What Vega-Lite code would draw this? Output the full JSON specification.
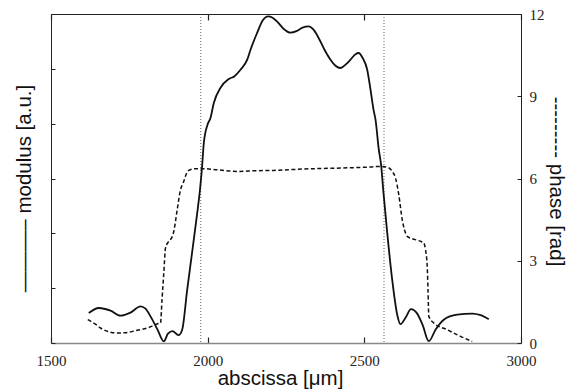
{
  "$schema": "https://vega.github.io/schema/vega-lite/v6.json",
  "autosize": {"type": "none"},
  "padding": {"left": 51, "top": 14, "right": 59, "bottom": 49},
  "width": 470,
  "height": 329,
  "background": "white",
  "config": {
    "view": {"stroke": "#222", "strokeWidth": 1},
    "axis": {
      "grid": false,
      "domain": false,
      "labelFlush": false,
      "tickColor": "#222",
      "tickWidth": 1,
      "labelFont": "Liberation Serif",
      "labelFontSize": 15,
      "labelColor": "#222",
      "titleFont": "Liberation Sans",
      "titleFontSize": 20.5,
      "titleFontWeight": "normal",
      "titleColor": "#111"
    }
  },
  "datasets": {
    "mod": [
      {"x": 1620.6, "m": 0.547}, {"x": 1652.6, "m": 0.638}, {"x": 1689.9, "m": 0.589}, {"x": 1721.8, "m": 0.498},
      {"x": 1753.7, "m": 0.553}, {"x": 1785.7, "m": 0.668}, {"x": 1801.6, "m": 0.626}, {"x": 1817.6, "m": 0.485},
      {"x": 1839.9, "m": 0.243}, {"x": 1860.0, "m": 0.03}, {"x": 1873.4, "m": 0.17}, {"x": 1887.8, "m": 0.215},
      {"x": 1906.9, "m": 0.142}, {"x": 1918.7, "m": 0.243}, {"x": 1934.7, "m": 0.972}, {"x": 1945.2, "m": 1.428},
      {"x": 1955.7, "m": 1.884}, {"x": 1966.0, "m": 2.34}, {"x": 1975.5, "m": 2.796}, {"x": 1981.9, "m": 3.197},
      {"x": 1987.7, "m": 3.648}, {"x": 1999.5, "m": 3.981}, {"x": 2009.0, "m": 4.104}, {"x": 2019.6, "m": 4.377},
      {"x": 2041.0, "m": 4.656}, {"x": 2066.5, "m": 4.811}, {"x": 2085.6, "m": 4.866}, {"x": 2104.8, "m": 4.984},
      {"x": 2126.2, "m": 5.167}, {"x": 2136.7, "m": 5.349}, {"x": 2158.1, "m": 5.659}, {"x": 2175.0, "m": 5.878},
      {"x": 2193.2, "m": 5.957}, {"x": 2206.9, "m": 5.933}, {"x": 2221.9, "m": 5.86}, {"x": 2242.0, "m": 5.732},
      {"x": 2264.4, "m": 5.659}, {"x": 2283.5, "m": 5.687}, {"x": 2302.7, "m": 5.75}, {"x": 2322.8, "m": 5.774},
      {"x": 2337.8, "m": 5.714}, {"x": 2353.7, "m": 5.568}, {"x": 2372.9, "m": 5.349}, {"x": 2392.0, "m": 5.167},
      {"x": 2408.0, "m": 5.057}, {"x": 2423.9, "m": 5.015}, {"x": 2439.9, "m": 5.076}, {"x": 2455.8, "m": 5.167},
      {"x": 2471.8, "m": 5.267}, {"x": 2482.3, "m": 5.289}, {"x": 2494.2, "m": 5.203}, {"x": 2509.2, "m": 4.984},
      {"x": 2519.7, "m": 4.62}, {"x": 2529.3, "m": 4.255}, {"x": 2535.7, "m": 4.073}, {"x": 2546.2, "m": 3.525},
      {"x": 2553.8, "m": 3.234}, {"x": 2560.2, "m": 2.796}, {"x": 2573.0, "m": 2.012}, {"x": 2588.9, "m": 1.155},
      {"x": 2604.9, "m": 0.516}, {"x": 2615.4, "m": 0.343}, {"x": 2631.4, "m": 0.461}, {"x": 2649.0, "m": 0.616},
      {"x": 2666.5, "m": 0.553}, {"x": 2685.7, "m": 0.334}, {"x": 2705.8, "m": 0.033}, {"x": 2727.2, "m": 0.243},
      {"x": 2753.6, "m": 0.425}, {"x": 2796.4, "m": 0.516}, {"x": 2844.3, "m": 0.534}, {"x": 2870.8, "m": 0.507},
      {"x": 2897.2, "m": 0.434}
    ],
    "phase": [
      {"x": 1617.4, "p": 0.85}, {"x": 1642.0, "p": 0.686}, {"x": 1658.0, "p": 0.547}, {"x": 1683.5, "p": 0.412},
      {"x": 1711.3, "p": 0.365}, {"x": 1737.8, "p": 0.376}, {"x": 1769.7, "p": 0.449}, {"x": 1807.0, "p": 0.547},
      {"x": 1844.0, "p": 0.712}, {"x": 1849.5, "p": 0.729}, {"x": 1854.3, "p": 1.579}, {"x": 1860.0, "p": 2.553},
      {"x": 1865.4, "p": 3.465}, {"x": 1875.0, "p": 3.694}, {"x": 1881.4, "p": 3.767}, {"x": 1891.9, "p": 4.07},
      {"x": 1902.8, "p": 4.861}, {"x": 1913.3, "p": 5.591}, {"x": 1921.9, "p": 5.835}, {"x": 1930.9, "p": 6.138},
      {"x": 1939.8, "p": 6.295}, {"x": 1961.2, "p": 6.357}, {"x": 1987.7, "p": 6.357}, {"x": 2030.4, "p": 6.32},
      {"x": 2094.3, "p": 6.258}, {"x": 2152.7, "p": 6.284}, {"x": 2211.1, "p": 6.295}, {"x": 2306.8, "p": 6.346},
      {"x": 2423.9, "p": 6.382}, {"x": 2503.7, "p": 6.411}, {"x": 2557.0, "p": 6.441}, {"x": 2577.1, "p": 6.393},
      {"x": 2589.9, "p": 6.247}, {"x": 2599.5, "p": 6.017}, {"x": 2610.0, "p": 5.408}, {"x": 2620.9, "p": 4.497},
      {"x": 2628.2, "p": 4.132}, {"x": 2636.8, "p": 3.888}, {"x": 2653.7, "p": 3.804}, {"x": 2668.7, "p": 3.749},
      {"x": 2682.5, "p": 3.694}, {"x": 2689.8, "p": 3.647}, {"x": 2695.2, "p": 3.403}, {"x": 2700.7, "p": 2.794},
      {"x": 2703.2, "p": 1.944}, {"x": 2705.8, "p": 0.971}, {"x": 2721.7, "p": 0.729}, {"x": 2764.5, "p": 0.485},
      {"x": 2806.9, "p": 0.241}, {"x": 2844.3, "p": 0.058}
    ],
    "marks": [{"x": 1978}, {"x": 2562.8}]
  },
  "layer": [
    {
      "data": {"name": "marks"},
      "mark": {"type": "rule", "stroke": "#333", "strokeWidth": 0.8, "strokeDash": [1, 2]},
      "encoding": {
        "x": {
          "field": "x", "type": "quantitative",
          "scale": {"domain": [1500, 3000], "nice": false},
          "axis": {"orient": "top", "title": null, "labels": false, "values": [1500, 2000, 2500, 3000], "tickSize": -6, "tickWidth": 1.2}
        }
      }
    },
    {
      "data": {"name": "mod"},
      "mark": {"type": "line", "interpolate": "monotone", "stroke": "#111", "strokeWidth": 1.8},
      "encoding": {
        "x": {
          "field": "x", "type": "quantitative",
          "scale": {"domain": [1500, 3000], "nice": false},
          "axis": {
            "orient": "bottom", "title": "abscissa [μm]", "values": [1500, 2000, 2500, 3000], "format": "d",
            "tickSize": -6, "tickWidth": 1.2, "labelPadding": 16, "domain": true, "domainColor": "#888", "domainWidth": 1.5,
            "titleX": 229, "titleY": 41, "titleBaseline": "alphabetic"
          }
        },
        "y": {
          "field": "m", "type": "quantitative",
          "scale": {"domain": [0, 6], "nice": false},
          "axis": {
            "orient": "left", "title": "———–  modulus [a.u.]", "labels": false,
            "values": [0, 1, 2, 3, 4, 5, 6], "tickSize": -4,
            "titleAngle": -90, "titleX": -27, "titleY": 174, "titleAlign": "center", "titleBaseline": "middle"
          }
        }
      }
    },
    {
      "data": {"name": "phase"},
      "mark": {"type": "line", "interpolate": "monotone", "stroke": "#111", "strokeWidth": 1.5, "strokeDash": [4, 2.5]},
      "encoding": {
        "x": {"field": "x", "type": "quantitative", "scale": {"domain": [1500, 3000], "nice": false}, "axis": null},
        "y": {
          "field": "p", "type": "quantitative",
          "scale": {"domain": [0, 12], "nice": false},
          "axis": {
            "orient": "right", "title": "---------  phase [rad]", "values": [0, 3, 6, 9, 12],
            "tickSize": -4, "labelPadding": 12,
            "titleAngle": 90, "titleX": 34, "titleY": 167, "titleAlign": "center", "titleBaseline": "middle"
          }
        }
      }
    }
  ],
  "resolve": {"scale": {"y": "independent"}, "axis": {"x": "independent"}}
}
